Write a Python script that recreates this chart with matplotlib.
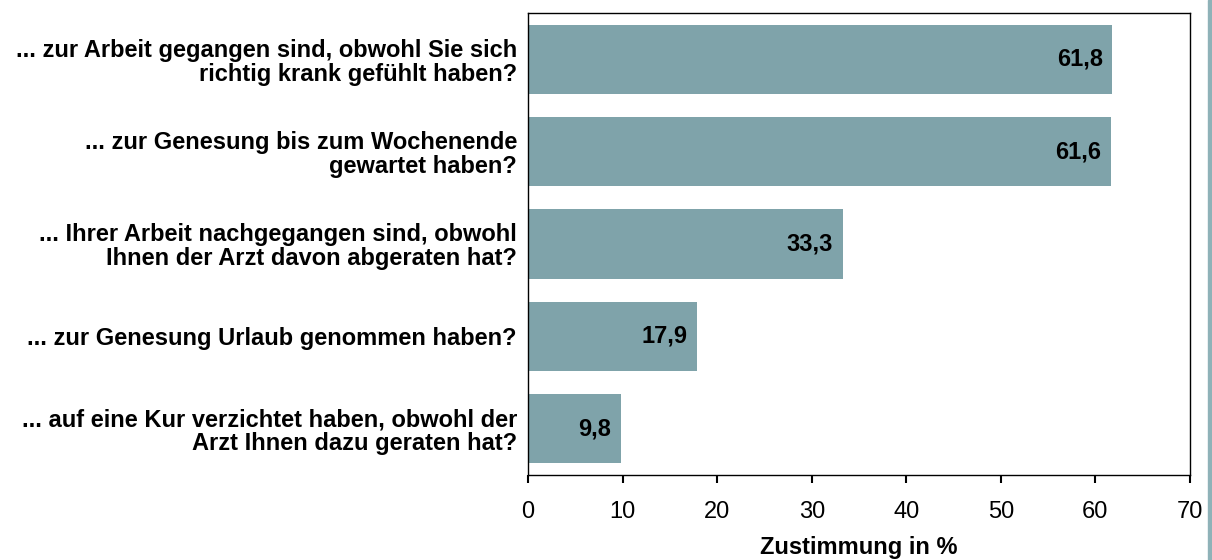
import matplotlib
matplotlib.use("Agg")
import matplotlib.pyplot as plt
from matplotlib.patches import Rectangle

plt.rcParams['font.family'] = ['Liberation Sans', 'DejaVu Sans']

categories = [
    "... zur Arbeit gegangen sind, obwohl Sie sich\nrichtig krank gefühlt haben?",
    "... zur Genesung bis zum Wochenende\ngewartet haben?",
    "... Ihrer Arbeit nachgegangen sind, obwohl\nIhnen der Arzt davon abgeraten hat?",
    "... zur Genesung Urlaub genommen haben?",
    "... auf eine Kur verzichtet haben, obwohl der\nArzt Ihnen dazu geraten hat?",
]
values = [61.8, 61.6, 33.3, 17.9, 9.8]
value_labels = ["61,8", "61,6", "33,3", "17,9", "9,8"]
xticks = [0, 10, 20, 30, 40, 50, 60, 70]
xlabel = "Zustimmung in %"

fig = plt.figure(figsize=(12.12, 5.6), dpi=100)
ax = fig.add_axes([528/1212, 1 - 475/560, (1190-528)/1212, (475-13)/560])

ypos = list(range(len(categories)))
bars = ax.barh(ypos, values, height=0.75, color='#7fa3aa', edgecolor='none')
ax.set_ylim(len(categories) - 0.5, -0.5)
ax.set_xlim(0, 70)
ax.set_xticks(xticks)
ax.set_xticklabels([str(t) for t in xticks], fontsize=17)
ax.set_yticks(ypos)
ax.set_yticklabels(categories, fontsize=17, fontweight='bold', linespacing=1.05)
ax.tick_params(axis='y', length=0, pad=8)
ax.tick_params(axis='x', direction='out', length=6, width=1.5, pad=13, color='black')
ax.set_xlabel(xlabel, fontsize=17, fontweight='bold', labelpad=9)

for s in ax.spines.values():
    s.set_color('black')
    s.set_linewidth(1.0)

for b, lab in zip(bars, value_labels):
    ax.annotate(lab, (b.get_width(), b.get_y() + b.get_height()/2),
                xytext=(-7, 0), textcoords='offset points', ha='right', va='center',
                fontsize=17, fontweight='bold', color='black')

fig.patches.append(Rectangle((1208/1212, 0), 4/1212, 1, transform=fig.transFigure,
                             color='#8fb2b8', zorder=0))

fig.savefig('out.png', dpi=100)
